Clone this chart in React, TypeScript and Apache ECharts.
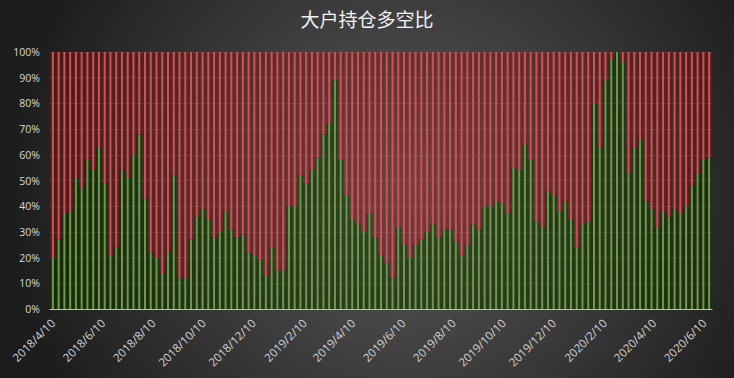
import React, { useEffect, useRef } from 'react';
import * as echarts from 'echarts';

const dates = [
  '2018/4/10', '2018/4/17', '2018/4/24', '2018/5/1', '2018/5/8', '2018/5/15', '2018/5/22', '2018/5/29',
  '2018/6/5', '2018/6/12', '2018/6/19', '2018/6/26', '2018/7/3', '2018/7/10', '2018/7/17', '2018/7/24',
  '2018/7/31', '2018/8/7', '2018/8/14', '2018/8/21', '2018/8/28', '2018/9/4', '2018/9/11', '2018/9/18',
  '2018/9/25', '2018/10/2', '2018/10/9', '2018/10/16', '2018/10/23', '2018/10/30', '2018/11/6', '2018/11/13',
  '2018/11/20', '2018/11/27', '2018/12/4', '2018/12/11', '2018/12/18', '2018/12/25',
  '2019/1/1', '2019/1/8', '2019/1/15', '2019/1/22', '2019/1/29', '2019/2/5', '2019/2/12', '2019/2/19',
  '2019/2/26', '2019/3/5', '2019/3/12', '2019/3/19', '2019/3/26', '2019/4/2', '2019/4/9', '2019/4/16',
  '2019/4/23', '2019/4/30', '2019/5/7', '2019/5/14', '2019/5/21', '2019/5/28', '2019/6/4', '2019/6/11',
  '2019/6/18', '2019/6/25', '2019/7/2', '2019/7/9', '2019/7/16', '2019/7/23', '2019/7/30', '2019/8/6',
  '2019/8/13', '2019/8/20', '2019/8/27', '2019/9/3', '2019/9/10', '2019/9/17', '2019/9/24', '2019/10/1',
  '2019/10/8', '2019/10/15', '2019/10/22', '2019/10/29', '2019/11/5', '2019/11/12', '2019/11/19', '2019/11/26',
  '2019/12/3', '2019/12/10', '2019/12/17', '2019/12/24', '2019/12/31',
  '2020/1/7', '2020/1/14', '2020/1/21', '2020/1/28', '2020/2/4', '2020/2/11', '2020/2/18', '2020/2/25',
  '2020/3/3', '2020/3/10', '2020/3/17', '2020/3/24', '2020/3/31', '2020/4/7', '2020/4/14', '2020/4/21',
  '2020/4/28', '2020/5/5', '2020/5/12', '2020/5/19', '2020/5/26', '2020/6/2', '2020/6/9', '2020/6/16',
];

// 多头占比 (%)
const longPct = [
  20, 27, 37, 38, 51, 47, 58, 54, 63, 49,
  21, 24, 54, 51, 60, 68, 43, 22, 20, 14,
  22, 52, 12, 12, 27, 36, 39, 35, 28, 30,
  38, 31, 28, 29, 22, 21, 19, 13, 24, 15,
  15, 40, 40, 52, 49, 54, 59, 68, 72, 89,
  58, 44, 35, 33, 30, 37, 28, 21, 18, 12,
  32, 25, 20, 25, 27, 30, 33, 28, 31, 31,
  26, 21, 25, 33, 31, 40, 40, 42, 41, 37,
  55, 54, 64, 58, 34, 32, 46, 44, 38, 42,
  35, 24, 33, 34, 80, 63, 89, 97, 100, 96,
  53, 63, 66, 42, 39, 32, 38, 36, 39, 37,
  40, 48, 53, 58, 59,
];

// 空头占比 (%)
const shortPct = [
  80, 73, 63, 62, 49, 53, 42, 46, 37, 51,
  79, 76, 46, 49, 40, 32, 57, 78, 80, 86,
  78, 48, 88, 88, 73, 64, 61, 65, 72, 70,
  62, 69, 72, 71, 78, 79, 81, 87, 76, 85,
  85, 60, 60, 48, 51, 46, 41, 32, 28, 11,
  42, 56, 65, 67, 70, 63, 72, 79, 82, 88,
  68, 75, 80, 75, 73, 70, 67, 72, 69, 69,
  74, 79, 75, 67, 69, 60, 60, 58, 59, 63,
  45, 46, 36, 42, 66, 68, 54, 56, 62, 58,
  65, 76, 67, 66, 20, 37, 11, 3, 0, 4,
  47, 37, 34, 58, 61, 68, 62, 64, 61, 63,
  60, 52, 47, 42, 41,
];

const tickLabels = [
  '2018/4/10', '2018/6/10', '2018/8/10', '2018/10/10', '2018/12/10', '2019/2/10', '2019/4/10',
  '2019/6/10', '2019/8/10', '2019/10/10', '2019/12/10', '2020/2/10', '2020/4/10', '2020/6/10',
];

const DAY = 86400000;
function toDay(s: string): number {
  const [y, m, d] = s.split('/').map(Number);
  return Math.round(Date.UTC(y, m - 1, d) / DAY);
}

export default function App() {
  const ref = useRef<HTMLDivElement>(null);

  useEffect(() => {
    document.body.style.margin = '0';
    if (!ref.current) return;
    const chart = echarts.init(ref.current, undefined, { renderer: 'svg' });
    const tickDays = tickLabels.map(toDay);
    // the label axis spans the same range as the category bands (half a week padding each side)
    const first = toDay(dates[0]);
    const last = toDay(dates[dates.length - 1]);
    const halfStep = (last - first) / (dates.length - 1) / 2;
    const min = first - halfStep;
    const max = last + halfStep;

    chart.setOption({
      animation: false,
      backgroundColor: 'transparent',
      title: {
        text: '大户持仓多空比',
        left: 'center',
        top: 4,
        textStyle: {
          color: '#f2f2f2',
          fontSize: 19,
          fontWeight: 'normal',
          fontFamily: 'Noto Sans CJK SC',
        },
      },
      grid: { left: 50, right: 22, top: 52, bottom: 69 },
      xAxis: [
        {
          type: 'category',
          data: dates,
          axisLine: { show: true, onZero: false, lineStyle: { color: '#bdbdbd', width: 1 } },
          axisTick: { show: false },
          axisLabel: { show: false },
          splitLine: { show: false },
        },
        {
          type: 'category',
          data: dates,
          show: false,
        },
        {
          type: 'value',
          min,
          max,
          position: 'bottom',
          axisLine: { show: false },
          axisTick: { show: false },
          splitLine: { show: false },
          axisLabel: {
            customValues: tickDays,
            formatter: (v: number) => {
              const i = tickDays.indexOf(v);
              return i >= 0 ? tickLabels[i] : '';
            },
            rotate: 45,
            color: '#d4d4d4',
            fontSize: 11.5,
            fontFamily: 'Open Sans',
            margin: 12,
            hideOverlap: false,
            showMinLabel: true,
            showMaxLabel: true,
          },
        },
      ],
      yAxis: {
        type: 'value',
        min: 0,
        max: 100,
        interval: 10,
        axisLabel: {
          formatter: '{value}%',
          color: '#d9d9d9',
          fontSize: 10.5,
          fontFamily: 'Open Sans',
          margin: 10,
        },
        axisLine: { show: false },
        axisTick: { show: false },
        splitLine: { lineStyle: { color: 'rgba(255,255,255,0.13)', width: 1 } },
      },
      series: [
        {
          name: '多头底色',
          type: 'bar',
          xAxisIndex: 1,
          stack: 'tint',
          barCategoryGap: '0%',
          itemStyle: { color: 'rgba(20,45,10,0.55)' },
          data: longPct,
          silent: true,
        },
        {
          name: '空头底色',
          type: 'bar',
          xAxisIndex: 1,
          stack: 'tint',
          barCategoryGap: '0%',
          itemStyle: { color: 'rgba(120,25,25,0.35)' },
          data: shortPct,
          silent: true,
        },
        {
          name: '多头',
          type: 'bar',
          xAxisIndex: 0,
          stack: 'line',
          barWidth: 2,
          itemStyle: { color: '#6c9c3c' },
          data: longPct,
        },
        {
          name: '空头',
          type: 'bar',
          xAxisIndex: 0,
          stack: 'line',
          barWidth: 2,
          itemStyle: { color: '#e04c4c' },
          data: shortPct,
        },
      ],
    });
    return () => chart.dispose();
  }, []);

  return (
    <div
      style={{
        width: 734,
        height: 378,
        background: 'radial-gradient(circle 400px at 55% 50%, #5a5a5a 0%, #1c1c1c 100%)',
      }}
    >
      <div ref={ref} style={{ width: 734, height: 378 }} />
    </div>
  );
}
